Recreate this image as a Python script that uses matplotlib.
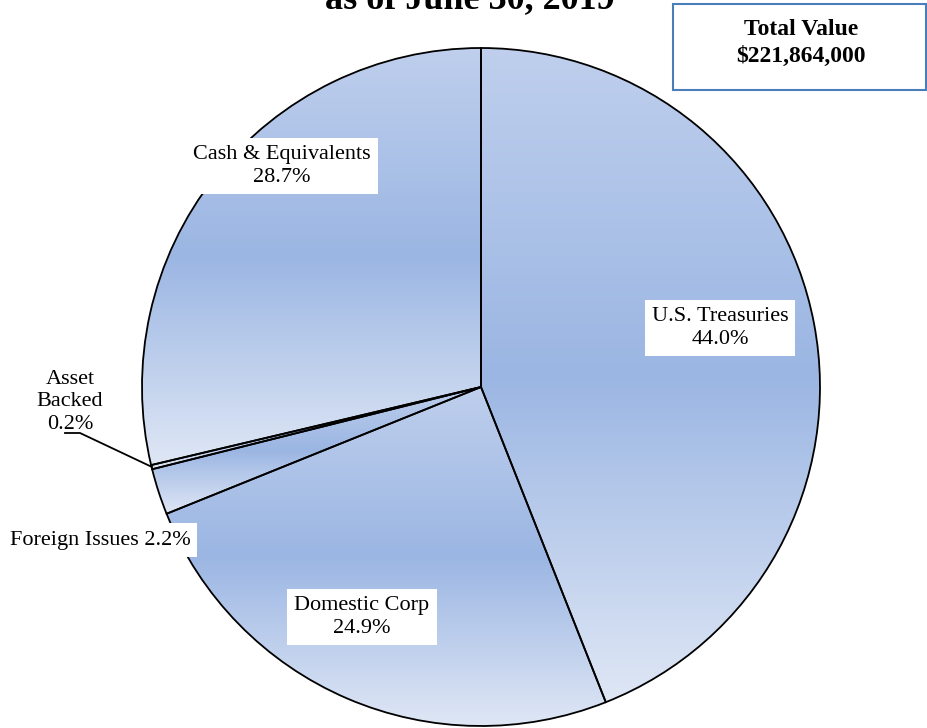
import numpy as np
import matplotlib
matplotlib.use("Agg")
import matplotlib.pyplot as plt
from matplotlib.colors import LinearSegmentedColormap
from matplotlib.patches import Rectangle

categories = ["U.S. Treasuries", "Domestic Corp", "Foreign Issues", "Asset Backed", "Cash & Equivalents"]
values = [44.0, 24.9, 2.2, 0.2, 28.7]
title_text = "as of June 30, 2019"
total_label = "Total Value"
total_value = "$221,864,000"

W, H = 928, 728
fig = plt.figure(figsize=(W / 100, H / 100), dpi=100)
ax = fig.add_axes([0, 0, 1, 1])
ax.set_xlim(0, W)
ax.set_ylim(0, H)
ax.set_aspect("equal")
ax.axis("off")

serif = ["Liberation Serif", "DejaVu Serif"]

cx, cy, r = 481, H - 387, 339
wedges, _ = ax.pie(values, startangle=90, counterclock=False, center=(cx, cy),
                   radius=r, frame=True,
                   wedgeprops=dict(facecolor="none", edgecolor="black", linewidth=1.3))
ax.set_xlim(0, W)
ax.set_ylim(0, H)
ax.axis("off")

cmap = LinearSegmentedColormap.from_list("g", ["#bfcfed", "#9bb6e3", "#dfe7f5"])
grad = np.linspace(0, 1, 256).reshape(-1, 1)
for w in wedges:
    w.set_zorder(3)
    bb = w.get_path().get_extents(w.get_patch_transform())
    im = ax.imshow(grad, cmap=cmap, aspect="auto", origin="upper",
                   extent=(bb.x0, bb.x1, bb.y0, bb.y1), zorder=2)
    im.set_clip_path(w)

ax.set_xlim(0, W)
ax.set_ylim(0, H)

fs = 16
box = dict(boxstyle="square,pad=0.32", facecolor="white", edgecolor="none")
labels = {
    "U.S. Treasuries": ("U.S. Treasuries\n44.0%", 720, 328, True),
    "Domestic Corp": ("Domestic Corp\n24.9%", 362, 617, True),
    "Foreign Issues": ("Foreign Issues 2.2%", 100, 540, True),
    "Asset Backed": ("Asset\nBacked\n0.2%", 70, 402, False),
    "Cash & Equivalents": ("Cash & Equivalents\n28.7%", 282, 166, True),
}
for cat, v in zip(categories, values):
    txt, x, y, boxed = labels[cat]
    ax.text(x, H - y, txt, ha="center", va="center", fontsize=fs, family=serif,
            linespacing=1.28, zorder=6, bbox=box if boxed else None)

# leader line for Asset Backed
ax.plot([65, 80, 152], [H - 433, H - 433, H - 467], color="black", lw=1.3, zorder=5)

# title (cropped at top)
ax.text(470, H - 8, title_text, ha="center", va="baseline", fontsize=26,
        fontweight="bold", family=serif, zorder=6)

# total value box
ax.add_patch(Rectangle((673, H - 90), 253, 86, facecolor="white",
                       edgecolor="#4a7ebb", lw=1.5, zorder=6))
ax.text(801, H - 35, total_label, ha="center", va="baseline", fontsize=17,
        fontweight="bold", family=serif, zorder=7)
ax.text(801, H - 62, total_value, ha="center", va="baseline", fontsize=17,
        fontweight="bold", family=serif, zorder=7)

fig.savefig("out.png", dpi=100)
